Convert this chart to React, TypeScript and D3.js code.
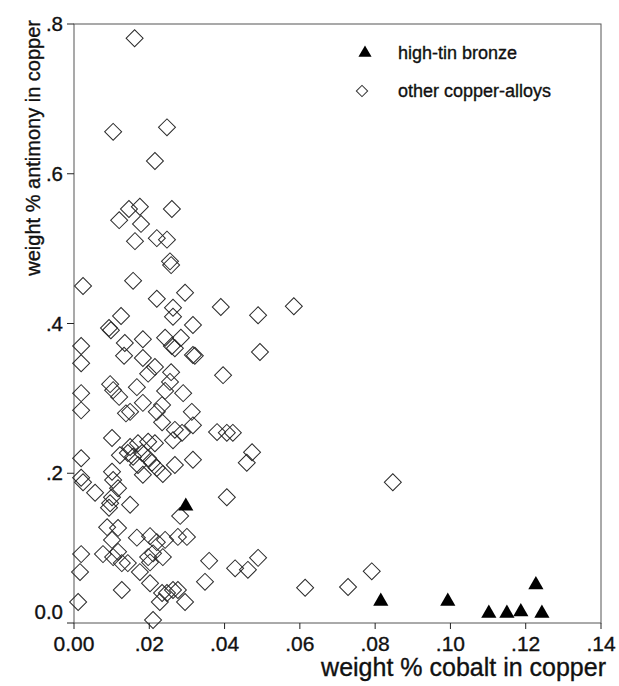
import * as d3 from 'd3';
import React, { useEffect, useRef } from 'react';

// other copper-alloys: [cobalt, antimony] (weight %)
const otherAlloys: [number, number][] = [
  [0.0161, 0.781], [0.0104, 0.656], [0.0247, 0.662], [0.0215, 0.617], [0.026, 0.553],
  [0.0146, 0.553], [0.0175, 0.556], [0.012, 0.538], [0.0178, 0.533], [0.0162, 0.51],
  [0.022, 0.514], [0.0247, 0.512], [0.0255, 0.483], [0.0258, 0.478], [0.0024, 0.45],
  [0.0157, 0.457], [0.022, 0.433], [0.0295, 0.441], [0.0263, 0.421], [0.0263, 0.409],
  [0.039, 0.422], [0.0489, 0.411], [0.0584, 0.423], [0.0125, 0.41], [0.0316, 0.398],
  [0.0093, 0.394], [0.0098, 0.391], [0.0019, 0.37], [0.0135, 0.374], [0.0183, 0.379],
  [0.0242, 0.381], [0.026, 0.37], [0.0268, 0.367], [0.0284, 0.381], [0.0316, 0.358],
  [0.0321, 0.357], [0.0494, 0.362], [0.0019, 0.347], [0.0133, 0.357], [0.0183, 0.354],
  [0.0215, 0.342], [0.0197, 0.333], [0.0258, 0.335], [0.0255, 0.322], [0.0396, 0.331],
  [0.0019, 0.307], [0.0096, 0.319], [0.0104, 0.311], [0.012, 0.302], [0.0167, 0.315],
  [0.0242, 0.31], [0.029, 0.307], [0.0019, 0.284], [0.0138, 0.28], [0.0149, 0.282],
  [0.0183, 0.294], [0.022, 0.282], [0.0234, 0.291], [0.0313, 0.282], [0.0234, 0.268],
  [0.0268, 0.258], [0.0316, 0.264], [0.0263, 0.244], [0.0287, 0.254], [0.038, 0.255],
  [0.0406, 0.254], [0.0422, 0.254], [0.0473, 0.228], [0.0459, 0.214], [0.0101, 0.247],
  [0.0019, 0.22], [0.0149, 0.235], [0.017, 0.24], [0.0197, 0.242], [0.0215, 0.24],
  [0.0122, 0.224], [0.0143, 0.227], [0.0157, 0.222], [0.0181, 0.227], [0.0197, 0.22],
  [0.017, 0.211], [0.0183, 0.198], [0.0207, 0.214], [0.022, 0.207], [0.0236, 0.199],
  [0.0268, 0.211], [0.0316, 0.218], [0.0019, 0.194], [0.0024, 0.188], [0.0056, 0.174],
  [0.0101, 0.202], [0.0104, 0.191], [0.0117, 0.18], [0.0101, 0.168], [0.0096, 0.16],
  [0.0093, 0.154], [0.0149, 0.158], [0.0406, 0.168], [0.0282, 0.143], [0.0088, 0.128],
  [0.0117, 0.127], [0.0101, 0.111], [0.0019, 0.092], [0.0077, 0.092], [0.0117, 0.095],
  [0.0104, 0.088], [0.0127, 0.08], [0.0143, 0.08], [0.0167, 0.114], [0.0202, 0.116],
  [0.022, 0.108], [0.0242, 0.111], [0.0276, 0.115], [0.03, 0.115], [0.0197, 0.088],
  [0.021, 0.093], [0.0236, 0.088], [0.0202, 0.081], [0.0175, 0.068], [0.0016, 0.068],
  [0.0359, 0.083], [0.0428, 0.073], [0.0462, 0.071], [0.0489, 0.087], [0.0348, 0.055],
  [0.0127, 0.044], [0.0202, 0.053], [0.0234, 0.04], [0.0247, 0.04], [0.0263, 0.044],
  [0.0276, 0.044], [0.0228, 0.028], [0.0295, 0.028], [0.0011, 0.028], [0.021, 0.004],
  [0.0614, 0.047], [0.0847, 0.188], [0.0791, 0.069], [0.0728, 0.048],
];

// high-tin bronze
const highTinBronze: [number, number][] = [
  [0.0297, 0.156], [0.0815, 0.029], [0.0993, 0.029], [0.1102, 0.013],
  [0.115, 0.013], [0.1187, 0.015], [0.1227, 0.051], [0.1243, 0.013],
];

const xTicks = [0, 0.02, 0.04, 0.06, 0.08, 0.1, 0.12, 0.14];
const xTickLabels = ['0.00', '.02', '.04', '.06', '.08', '.10', '.12', '.14'];
const yTicks = [0, 0.2, 0.4, 0.6, 0.8];
const yTickLabels = ['0.0', '.2', '.4', '.6', '.8'];

const App = () => {
  const svgRef = useRef<SVGSVGElement>(null);

  useEffect(() => {
    const svg = d3.select(svgRef.current);
    svg.selectAll('*').remove();
    const font = 'Liberation Sans, Arial, sans-serif';

    const x = d3.scaleLinear().domain([0, 0.14]).range([74, 601]);
    const y = d3.scaleLinear().domain([0, 0.8]).range([623, 24]);

    // scanned look: text a touch heavier than regular
    const label = (sel: any, size: number) =>
      sel.style('font-family', font).style('font-size', `${size}px`)
        .attr('fill', '#111').attr('stroke', '#111').attr('stroke-width', 0.35);

    // frame
    svg.append('rect')
      .attr('x', x(0)).attr('y', y(0.8))
      .attr('width', x(0.14) - x(0)).attr('height', y(0) - y(0.8))
      .attr('fill', 'none').attr('stroke', '#555').attr('stroke-width', 1);

    // x ticks
    const xg = svg.append('g');
    xTicks.forEach((t, i) => {
      xg.append('line')
        .attr('x1', x(t)).attr('x2', x(t))
        .attr('y1', y(0)).attr('y2', y(0) + 6)
        .attr('stroke', '#222');
      label(xg.append('text')
        .attr('x', x(t)).attr('y', 651)
        .attr('text-anchor', 'middle'), 21)
        .text(xTickLabels[i]);
    });

    // y ticks
    const yg = svg.append('g');
    yTicks.forEach((t, i) => {
      yg.append('line')
        .attr('x1', x(0) - 7).attr('x2', x(0))
        .attr('y1', y(t)).attr('y2', y(t))
        .attr('stroke', '#222');
      label(yg.append('text')
        .attr('x', 63).attr('y', t === 0 ? y(t) - 11 : y(t))
        .attr('dy', '0.35em')
        .attr('text-anchor', 'end'), 20.5)
        .text(yTickLabels[i]);
    });

    // axis titles
    label(svg.append('text')
      .attr('x', 606).attr('y', 676)
      .attr('text-anchor', 'end'), 25)
      .text('weight % cobalt in copper');

    label(svg.append('text')
      .attr('transform', 'translate(40,20) rotate(-90)')
      .attr('text-anchor', 'end'), 20)
      .text('weight % antimony in copper');

    // points
    const diamond = d3.symbol(d3.symbolSquare, 144)();
    svg.append('g')
      .selectAll('path')
      .data(otherAlloys)
      .enter()
      .append('path')
        .attr('d', diamond)
        .attr('transform', d => `translate(${x(d[0])},${y(d[1])}) rotate(45)`)
        .attr('fill', 'none')
        .attr('stroke', '#2a2a2a')
        .attr('stroke-width', 1);

    const tri = d3.symbol(d3.symbolTriangle, 100)();
    svg.append('g')
      .selectAll('path')
      .data(highTinBronze)
      .enter()
      .append('path')
        .attr('d', tri)
        .attr('transform', d => `translate(${x(d[0])},${y(d[1])})`)
        .attr('fill', '#000');

    // legend
    const lg = svg.append('g');
    lg.append('path')
      .attr('d', d3.symbol(d3.symbolTriangle, 75)())
      .attr('transform', 'translate(365,53)')
      .attr('fill', '#000');
    label(lg.append('text')
      .attr('x', 398).attr('y', 53).attr('dy', '0.35em'), 18)
      .text('high-tin bronze');
    lg.append('path')
      .attr('d', d3.symbol(d3.symbolSquare, 64)())
      .attr('transform', 'translate(362,91) rotate(45)')
      .attr('fill', 'none').attr('stroke', '#333');
    label(lg.append('text')
      .attr('x', 398).attr('y', 91).attr('dy', '0.35em'), 18)
      .text('other copper-alloys');
  }, []);

  return (
    <div>
      <style>{`body{margin:0}`}</style>
      <svg ref={svgRef} width="619" height="686" style={{ display: 'block', background: '#fff' }}></svg>
    </div>
  );
};

export default App;
